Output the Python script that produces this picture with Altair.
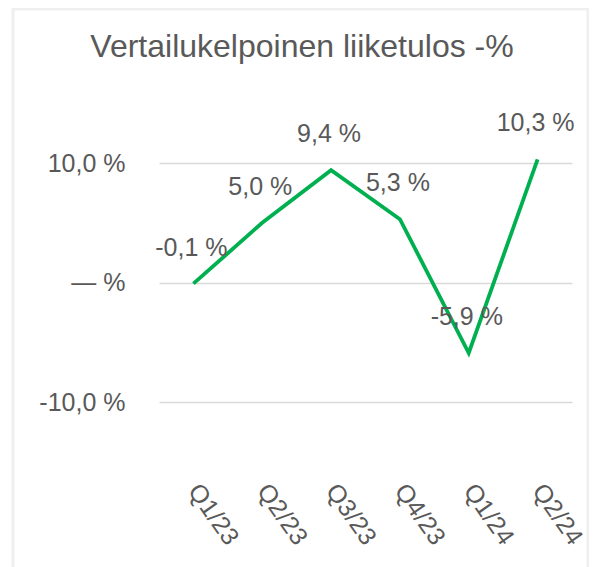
import altair as alt
import pandas as pd

quarters = ["Q1/23", "Q2/23", "Q3/23", "Q4/23", "Q1/24", "Q2/24"]
values = [-0.1, 5.0, 9.4, 5.3, -5.9, 10.3]
y_ticks = [-10, 0, 10]
title_text = "Vertailukelpoinen liiketulos -%"

labels = [f"{v:.1f}".replace(".", ",") + " %" for v in values]
df = pd.DataFrame({"q": quarters, "v": values, "lab": labels})

FONT = "Liberation Sans"
GRAY = "#595959"
GREEN = "#00B050"

W, H = 413, 239
PL, PT = 151, 155

x_enc = alt.X("q:N", sort=quarters, scale=alt.Scale(type="point", padding=0.5),
              axis=alt.Axis(title=None, labelAngle=55, labelAlign="left", labelBaseline="middle",
                            labelPadding=84, ticks=False, domain=False, grid=False,
                            labelFontSize=25, labelColor=GRAY, labelFont=FONT))
y_enc = alt.Y("v:Q", scale=alt.Scale(domain=[-10, 10], nice=False, zero=False),
              axis=alt.Axis(title=None, values=y_ticks, ticks=False, domain=False,
                            grid=True, gridColor="#D9D9D9", gridWidth=1.5,
                            labelPadding=34, labelFontSize=25, labelColor=GRAY, labelFont=FONT,
                            labelExpr="datum.value == 0 ? '— %' : replace(replace(format(datum.value, '.1f'), '.', ','), '\u2212', '-') + ' %'"))

base = alt.Chart(df)
line = base.mark_line(color=GREEN, strokeWidth=3.8, clip=False).encode(x=x_enc, y=y_enc)
text = base.mark_text(font=FONT, fontSize=25, color=GRAY, dy=-36, dx=-2,
                      align="center", baseline="middle").encode(
    x=alt.X("q:N", sort=quarters), y="v:Q", text="lab:N")

one = pd.DataFrame({"a": [0]})
frame = alt.Chart(one).mark_rect(filled=False, stroke="#EFEFEF", strokeWidth=3).encode(
    x=alt.value(-146), x2=alt.value(429), y=alt.value(-154), y2=alt.value(420))
title = alt.Chart(one).mark_text(font=FONT, fontSize=32, color=GRAY, align="center",
                                 baseline="middle").encode(
    x=alt.value(143), y=alt.value(-116), text=alt.value(title_text))

chart = alt.layer(frame, line, text, title).properties(
    width=W, height=H,
    autosize=alt.AutoSizeParams(type="none"),
    padding={"left": PL, "top": PT, "right": 581 - PL - W, "bottom": 559 - PT - H},
    background="white",
).configure_view(stroke=None)

chart.save("out.html", embed_options={"renderer": "svg", "actions": False})
